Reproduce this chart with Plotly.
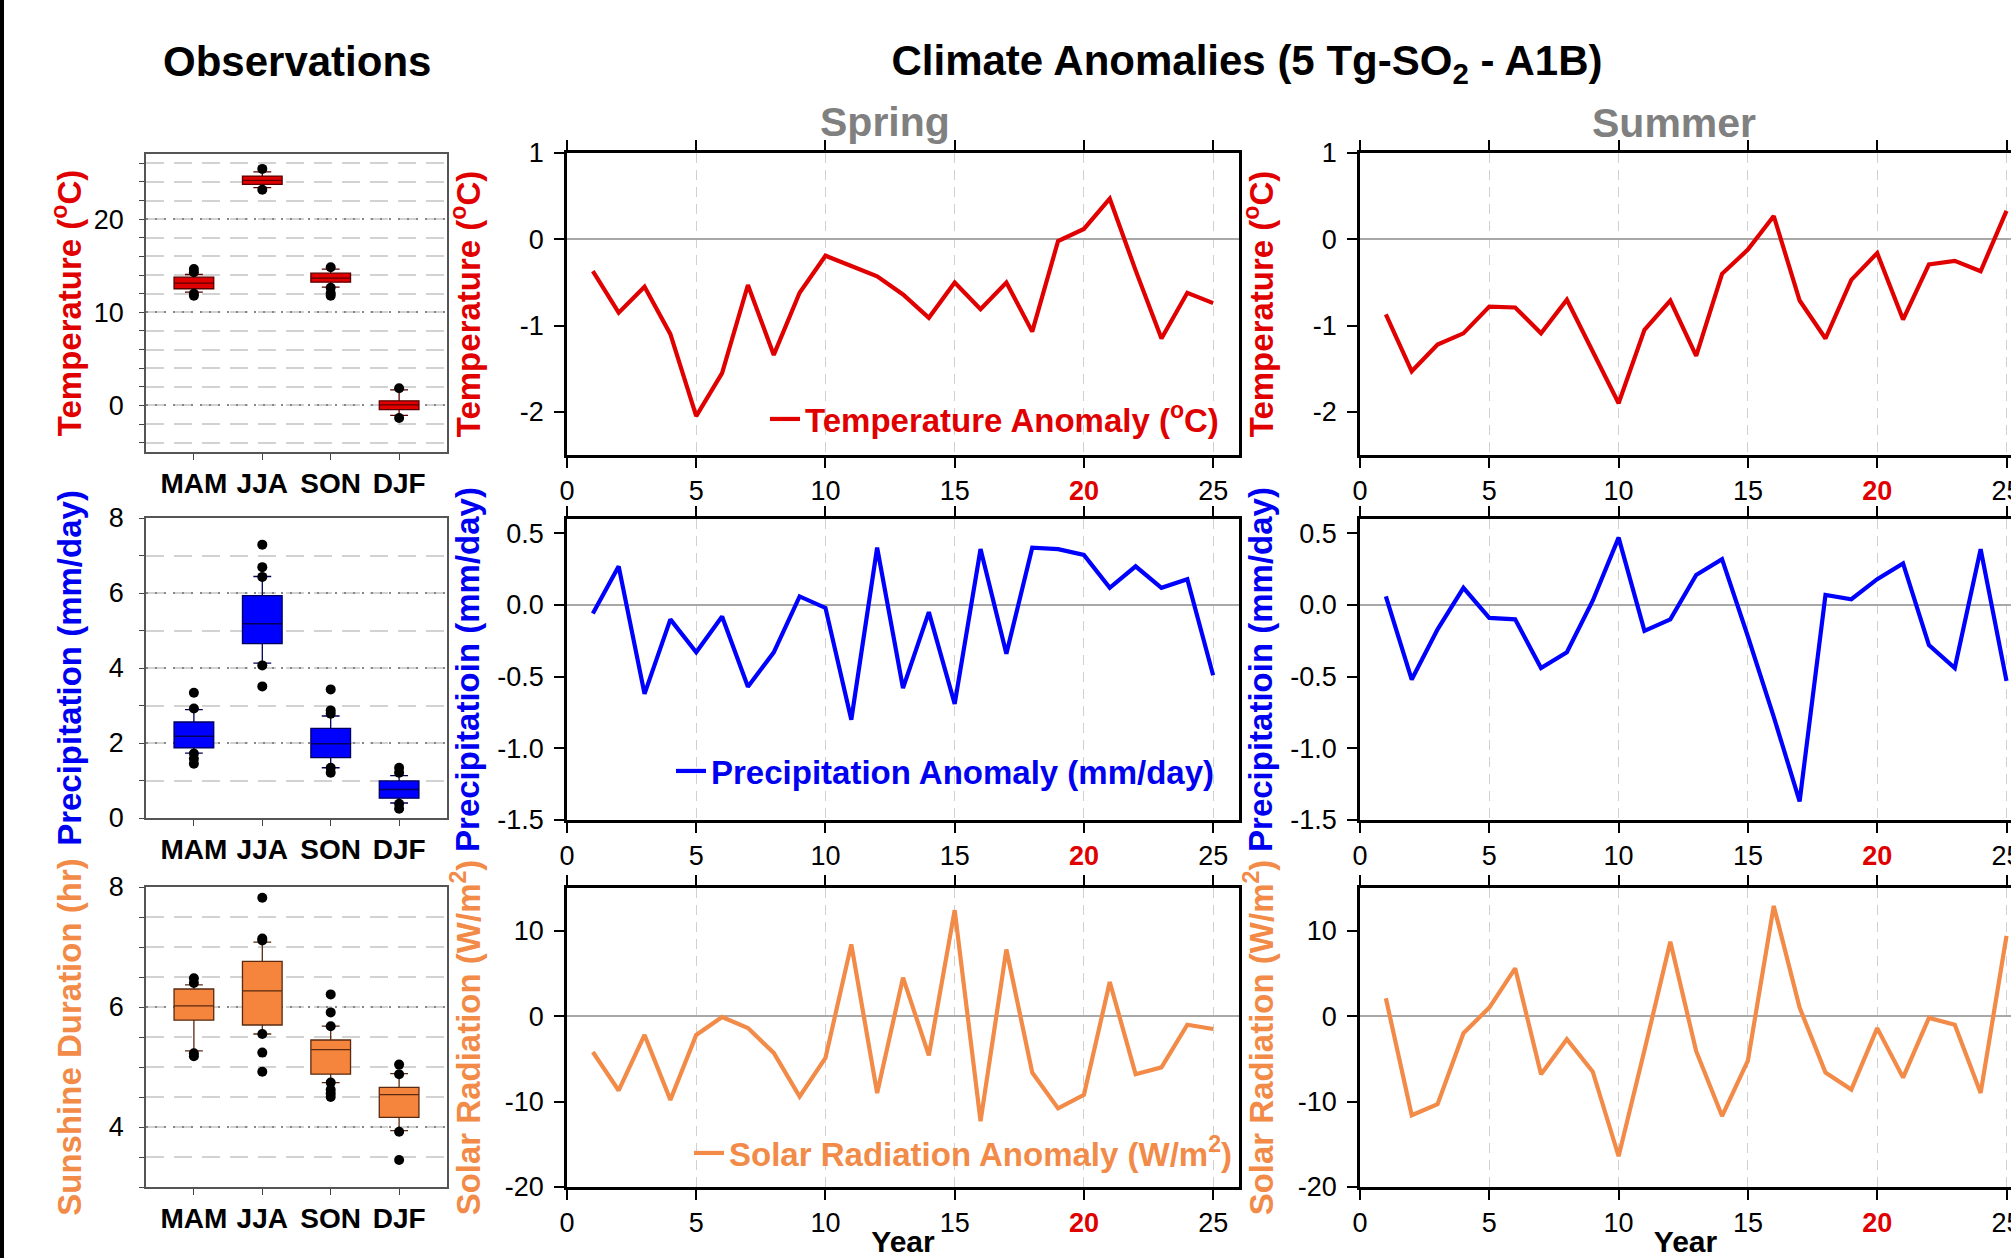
import plotly.graph_objects as go

W, H = 2011, 1258

# ---------------- data ----------------
seasons = ["MAM", "JJA", "SON", "DJF"]
season_pos = [0, 1, 2, 3]

# Observations: box statistics (lower whisker, Q1, median, Q3, upper whisker) and outliers
obs_temp_lo = [12.17, 23.38, 12.70, -1.07]
obs_temp_q1 = [12.53, 23.74, 13.24, -0.46]
obs_temp_med = [13.13, 24.16, 13.67, 0.07]
obs_temp_q3 = [13.77, 24.63, 14.20, 0.50]
obs_temp_hi = [14.06, 25.09, 14.63, 1.67]
obs_temp_out = [[14.66, 14.30, 11.99, 11.78], [25.40, 23.17], [14.84, 12.63, 12.06, 11.78], [1.85, -1.35]]

obs_prcp_lo = [1.73, 4.13, 1.34, 0.40]
obs_prcp_q1 = [1.87, 4.65, 1.61, 0.53]
obs_prcp_med = [2.18, 5.18, 1.98, 0.76]
obs_prcp_q3 = [2.56, 5.93, 2.39, 0.99]
obs_prcp_hi = [2.89, 6.44, 2.72, 1.13]
obs_prcp_out = [[3.34, 2.92, 1.72, 1.58, 1.45], [7.29, 6.69, 6.43, 4.07, 3.51],
                [3.43, 2.87, 2.78, 1.34, 1.21], [1.34, 1.21, 0.38, 0.25]]

obs_sun_lo = [5.27, 5.55, 4.74, 3.94]
obs_sun_q1 = [5.78, 5.70, 4.88, 4.16]
obs_sun_med = [6.02, 6.27, 5.29, 4.54]
obs_sun_q3 = [6.30, 6.76, 5.45, 4.66]
obs_sun_hi = [6.37, 7.08, 5.68, 4.89]
obs_sun_out = [[6.48, 6.40, 5.23, 5.18], [7.82, 7.14, 7.11, 5.55, 5.24, 4.92],
               [6.21, 5.91, 5.68, 4.74, 4.62, 4.56, 4.50], [5.04, 4.88, 3.92, 3.45]]

years = list(range(1, 26))
spring_temp = [-0.37, -0.85, -0.55, -1.10, -2.05, -1.55, -0.53, -1.34, -0.62, -0.19, -0.31, -0.43, -0.64,
               -0.91, -0.50, -0.81, -0.50, -1.07, -0.02, 0.12, 0.47, -0.36, -1.15, -0.62, -0.74]
spring_prcp = [-0.06, 0.27, -0.62, -0.10, -0.33, -0.08, -0.57, -0.33, 0.06, -0.02, -0.80, 0.40, -0.58,
               -0.05, -0.69, 0.39, -0.34, 0.40, 0.39, 0.35, 0.12, 0.27, 0.12, 0.18, -0.49]
spring_srad = [-4.2, -8.7, -2.2, -9.8, -2.2, -0.1, -1.4, -4.3, -9.4, -4.9, 8.4, -9.0, 4.5,
               -4.6, 12.4, -12.3, 7.8, -6.6, -10.8, -9.2, 4.0, -6.8, -6.0, -1.0, -1.5]
summer_temp = [-0.87, -1.53, -1.22, -1.09, -0.78, -0.79, -1.09, -0.70, -1.30, -1.90, -1.05, -0.71, -1.35,
               -0.40, -0.12, 0.27, -0.71, -1.15, -0.47, -0.16, -0.93, -0.29, -0.25, -0.37, 0.33]
summer_prcp = [0.06, -0.52, -0.17, 0.12, -0.09, -0.10, -0.44, -0.33, 0.03, 0.47, -0.18, -0.10, 0.21,
               0.32, -0.22, -0.78, -1.37, 0.07, 0.04, 0.18, 0.29, -0.28, -0.44, 0.39, -0.53]
summer_srad = [2.1, -11.6, -10.3, -2.0, 1.0, 5.6, -6.8, -2.7, -6.5, -16.4, -4.0, 8.7, -4.1,
               -11.7, -5.2, 12.9, 1.0, -6.6, -8.6, -1.4, -7.2, -0.2, -1.0, -9.0, 9.4]

year_ticks = [0, 5, 10, 15, 20, 25]
year_ticktext = ["0", "5", "10", "15", '<b><span style="color:#e00000">20</span></b>', "25"]

# ---------------- styling ----------------
FONT = "Liberation Sans, Arial, sans-serif"
RED = "#e00000"
BLUE = "#0000f0"
ORANGE = "#f28a48"
BOX_ORANGE = "#f5843c"


def dx(a, b):
    return [a / W, b / W]


def dy(top, bottom):
    return [1 - bottom / H, 1 - top / H]


fig = go.Figure()
layout = dict(
    width=W, height=H, margin=dict(l=0, r=0, t=0, b=0),
    paper_bgcolor="white", plot_bgcolor="white",
    font=dict(family=FONT, color="black"),
)

obs_rows = [(154, 452), (518, 818), (887, 1187)]
line_rows = [(153, 455), (519, 820), (888, 1187)]
obs_x = (146, 447)
spring_x = (567, 1239)
summer_x = (1360, 2011)

# ---------- observation box plots ----------
obs_specs = [
    (obs_temp_lo, obs_temp_q1, obs_temp_med, obs_temp_q3, obs_temp_hi, obs_temp_out, RED, "#5a0000",
     [-5, 27], [0, 10, 20], 2, "<b>Temperature (<sup>o</sup>C)</b>", RED, 2),
    (obs_prcp_lo, obs_prcp_q1, obs_prcp_med, obs_prcp_q3, obs_prcp_hi, obs_prcp_out, "#0000ff", "#00005a",
     [0, 8], [0, 2, 4, 6, 8], 1, "<b>Precipitation (mm/day)</b>", BLUE, 17),
    (obs_sun_lo, obs_sun_q1, obs_sun_med, obs_sun_q3, obs_sun_hi, obs_sun_out, BOX_ORANGE, "#5a2a10",
     [3, 8], [4, 6, 8], 0.5, "<b>Sunshine Duration (hr)</b>", ORANGE, 17),
]

for r, (lo, q1, med, q3, hi, outs, fill, edge, yr, ytv, mdt, ytitle, tcol, tso) in enumerate(obs_specs):
    n = r * 3 + 1
    fig.add_trace(go.Box(
        x=season_pos, lowerfence=lo, q1=q1, median=med, q3=q3, upperfence=hi,
        fillcolor=fill, line=dict(color=edge, width=1.3), whiskerwidth=0.45, width=0.58,
        boxpoints=False, showlegend=False, xaxis=f"x{n}", yaxis=f"y{n}", hoverinfo="skip",
    ))
    ox = [season_pos[i] for i, lst in enumerate(outs) for _ in lst]
    oy = [v for lst in outs for v in lst]
    fig.add_trace(go.Scatter(
        x=ox, y=oy, mode="markers", marker=dict(color="black", size=10),
        showlegend=False, xaxis=f"x{n}", yaxis=f"y{n}",
    ))
    layout[f"xaxis{n}"] = dict(
        domain=dx(*obs_x), anchor=f"y{n}", range=[-0.7, 3.7],
        tickvals=season_pos, ticktext=[f"<b>{s}</b>" for s in seasons],
        tickfont=dict(size=28, color="black"), ticks="outside", ticklen=6, tickcolor="#444",
        showline=True, linecolor="#555", linewidth=1.5, mirror=True,
        showgrid=False, zeroline=False, automargin=False,
    )
    layout[f"yaxis{n}"] = dict(
        domain=dy(*obs_rows[r]), anchor=f"x{n}", range=yr, tickvals=ytv,
        tickfont=dict(size=27, color="black"), ticks="outside", ticklen=5, tickcolor="#444",
        ticklabelstandoff=10,
        showline=True, linecolor="#555", linewidth=1.5, mirror=True,
        showgrid=True, gridcolor="#888888", griddash="2px,7px", gridwidth=2,
        minor=dict(dtick=mdt, tick0=0, ticks="outside", ticklen=5, tickcolor="#444",
                   showgrid=True, gridcolor="#d2d2d2", griddash="18px,10px", gridwidth=1.5),
        zeroline=False, automargin=False,
        title=dict(text=ytitle, font=dict(size=33, color=tcol), standoff=tso),
    )

# ---------- anomaly line panels ----------
line_specs = [
    ("temp", spring_temp, summer_temp, RED, [-2.5, 1], [-2, -1, 0, 1], ["-2", "-1", "0", "1"],
     "<b>Temperature (<sup>o</sup>C)</b>", RED, "Temperature Anomaly (<sup>o</sup>C)", "legend", 30),
    ("prcp", spring_prcp, summer_prcp, "#0000ff", [-1.5, 0.6], [-1.5, -1.0, -0.5, 0.0, 0.5],
     ["-1.5", "-1.0", "-0.5", "0.0", "0.5"],
     "<b>Precipitatioin (mm/day)</b>", BLUE, "Precipitation Anomaly (mm/day)", "legend2", 8),
    ("srad", spring_srad, summer_srad, ORANGE, [-20, 15], [-20, -10, 0, 10], ["-20", "-10", "0", "10"],
     "<b>Solar Radiation (W/m<sup>2</sup>)</b>", ORANGE, "Solar Radiation Anomaly (W/m<sup>2</sup>)", "legend3", 15),
]

for r, (key, sp, su, lcol, yr, ytv, ytt, ytitle, tcol, legname, legid, tso) in enumerate(line_specs):
    for c, (vals, xd, is_spring) in enumerate([(sp, spring_x, True), (su, summer_x, False)]):
        n = r * 3 + 2 + c
        fig.add_trace(go.Scatter(
            x=years, y=vals, mode="lines", line=dict(color=lcol, width=4.2),
            name=legname, legend=legid, showlegend=is_spring,
            xaxis=f"x{n}", yaxis=f"y{n}",
        ))
        xrng = [0, 26] if is_spring else [0, (summer_x[1] - summer_x[0]) / 25.86]
        xa = dict(
            domain=dx(*xd), anchor=f"y{n}", range=xrng,
            tickvals=year_ticks, ticktext=year_ticktext, ticklabeloverflow="allow",
            tickfont=dict(size=27, color="black"), ticks="outside", ticklen=10, tickwidth=2,
            tickcolor="black", showline=True, linecolor="black", linewidth=2.5, mirror="ticks",
            showgrid=True, gridcolor="#d0d0d0", griddash="10px,7px", gridwidth=1.3,
            zeroline=False, automargin=False,
        )
        if r == 2:
            xa["title"] = dict(text="<b>Year</b>", font=dict(size=30, color="black"), standoff=28)
        layout[f"xaxis{n}"] = xa
        layout[f"yaxis{n}"] = dict(
            domain=dy(*line_rows[r]), anchor=f"x{n}", range=yr,
            tickvals=ytv, ticktext=ytt, tickfont=dict(size=27, color="black"),
            ticks="outside", ticklen=10, tickwidth=2, tickcolor="black", ticklabelstandoff=5,
            showline=True, linecolor="black", linewidth=2.5, mirror=is_spring,
            showgrid=False, zeroline=True, zerolinecolor="#a8a8a8", zerolinewidth=2,
            automargin=False,
            title=dict(text=ytitle, font=dict(size=33, color=tcol), standoff=tso),
        )

# legends inside the spring panels
leg_pos = [(1224, 419, RED), (1220, 771, BLUE), (1238, 1153, ORANGE)]
for (lx, ly, lc), lid in zip(leg_pos, ["legend", "legend2", "legend3"]):
    layout[lid] = dict(
        x=lx / W, y=1 - ly / H, xanchor="right", yanchor="middle",
        bgcolor="rgba(0,0,0,0)", borderwidth=0,
        font=dict(size=33, color=lc, family=FONT, weight="bold"),
    )

layout["title"] = dict(
    text="<b>Climate Anomalies (5 Tg-SO<sub>2</sub> - A1B)</b>",
    x=1247 / W, y=1 - 60 / H, xanchor="center", yanchor="middle",
    font=dict(size=42, color="black"),
)
layout["annotations"] = [
    dict(text="<b>Observations</b>", x=297 / W, y=1 - 62 / H, xref="paper", yref="paper",
         showarrow=False, font=dict(size=42, color="black"), xanchor="center", yanchor="middle"),
    dict(text="<b>Spring</b>", x=885 / W, y=1 - 122 / H, xref="paper", yref="paper",
         showarrow=False, font=dict(size=41, color="#808080"), xanchor="center", yanchor="middle"),
    dict(text="<b>Summer</b>", x=1674 / W, y=1 - 123 / H, xref="paper", yref="paper",
         showarrow=False, font=dict(size=41, color="#808080"), xanchor="center", yanchor="middle"),
]
layout["shapes"] = [
    dict(type="line", xref="paper", yref="paper", x0=0.001, x1=0.001, y0=0, y1=1,
         line=dict(color="black", width=4)),
]

fig.update_layout(**layout)
fig.write_html(
    "out.html",
    config={"displayModeBar": False},
    post_script="document.body.style.margin='0px';document.body.style.overflow='hidden';",
)
